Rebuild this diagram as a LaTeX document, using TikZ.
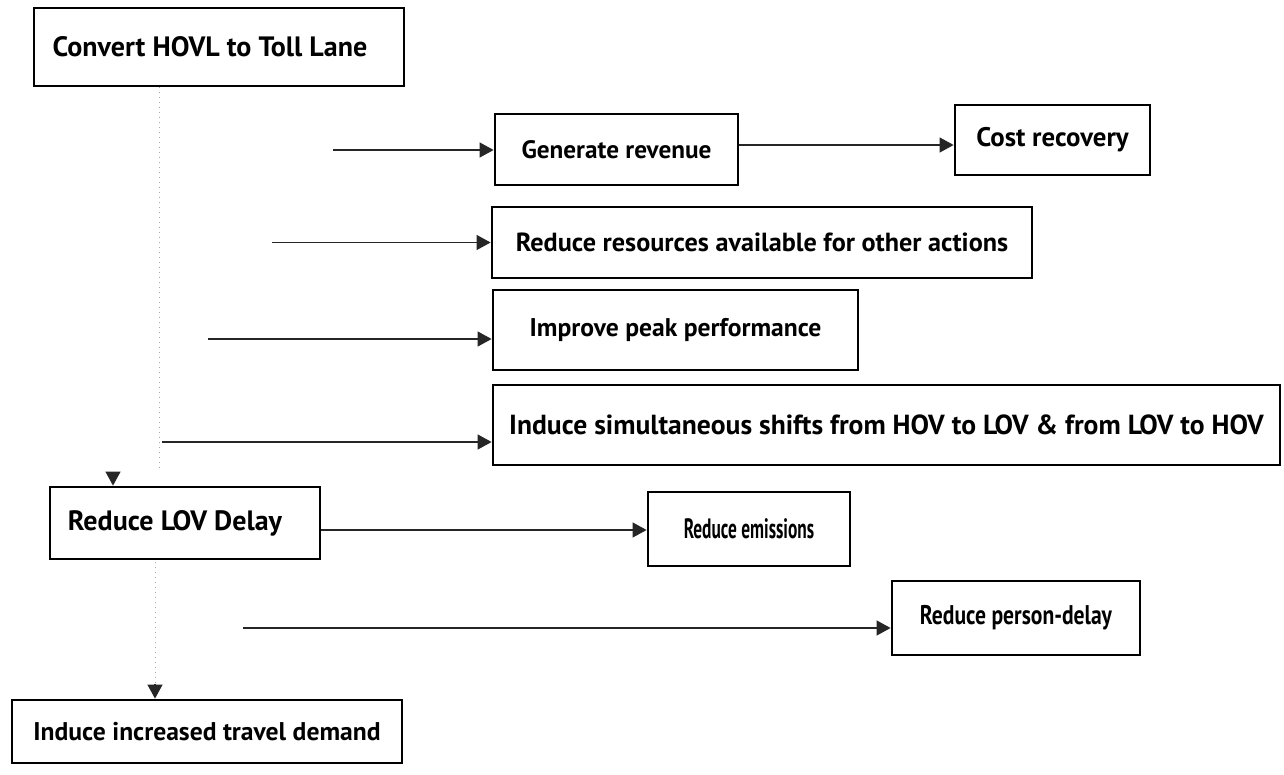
\documentclass[tikz,border=0pt]{standalone}
\usepackage{fontspec}
\setmainfont{PT Sans}
\usetikzlibrary{arrows.meta}
\newcommand{\fsz}[1]{\fontsize{#1}{1.2\dimexpr#1\relax}\selectfont\bfseries}
\begin{document}
\begin{tikzpicture}[x=0.5pt,y=-0.5pt,
  box/.style={draw=black, line width=1.4pt, rectangle, inner sep=0pt, align=center},
  conn/.style={draw=black!85, line width=0.6pt, -{Triangle[length=7pt,width=7.5pt]}},
  faint/.style={draw=black!35, line width=0.5pt, dotted}]
\useasboundingbox (0,0) rectangle (1284,775);
% boxes
\node[box, minimum width=185pt, minimum height=39pt, font=\fsz{14pt}] (conv) at (219,47) {\hspace*{-9pt}Convert HOVL to Toll Lane};
\node[box, minimum width=121.5pt, minimum height=35.5pt, font=\fsz{12.6pt}] (gen) at (616.5,149.5) {Generate revenue};
\node[box, minimum width=97.5pt, minimum height=35pt, font=\fsz{13.4pt}] (cost) at (1052.5,140) {Cost recovery};
\node[box, minimum width=270pt, minimum height=35.5pt, font=\fsz{13.1pt}] (res) at (762,242.5) {Reduce resources available for other actions};
\node[box, minimum width=182.5pt, minimum height=40pt, font=\fsz{12.8pt}] (imp) at (675.5,330) {Improve peak performance};
\node[box, minimum width=393.5pt, minimum height=40pt, font=\fsz{13.8pt}] (sim) at (886.5,425) {Induce simultaneous shifts from HOV to LOV \& from LOV to HOV};
\node[box, minimum width=135pt, minimum height=36pt, font=\fsz{14pt}] (lov) at (185,523) {\hspace*{-10pt}Reduce LOV Delay};
\node[box, minimum width=101pt, minimum height=37pt, font=\fsz{14pt}] (emi) at (749,529) {\scalebox{0.62}[1]{Reduce emissions}};
\node[box, minimum width=124pt, minimum height=37pt, font=\fsz{13.5pt}] (per) at (1016,618) {\scalebox{0.8}[1]{Reduce person-delay}};
\node[box, minimum width=195pt, minimum height=31.5pt, font=\fsz{12.8pt}] (ind) at (207,731.5) {Induce increased travel demand};
% free ends
\coordinate (s1) at (333,150);
\coordinate (s2) at (272,242.5);
\coordinate (s3) at (208,339);
\coordinate (s4) at (162,442);
\coordinate (s6) at (243,628);
\coordinate (v1) at (159,87);
\coordinate (v2) at (159,470);
\coordinate (d1) at (113,472);
\coordinate (v3) at (155,562);
\coordinate (v4) at (155,684);
% faint vertical trunk
\draw[faint] (v1) -- (v2);
\draw[faint] (v3) -- (v4);
% arrows
\draw[conn] (s1) -- (s1 -| gen.west);
\draw[conn] (s2) -- (s2 -| res.west);
\draw[conn] (s3) -- (s3 -| imp.west);
\draw[conn] (s4) -- (s4 -| sim.west);
\draw[conn] (gen.east |- 0,145) -- (cost.west |- 0,145);
\draw[conn] (lov.east |- 0,530) -- (emi.west |- 0,530);
\draw[conn] (s6) -- (s6 -| per.west);
\draw[conn] (d1) -- (d1 |- lov.north);
\draw[conn] (v4) -- (v4 |- ind.north);
\end{tikzpicture}
\end{document}
